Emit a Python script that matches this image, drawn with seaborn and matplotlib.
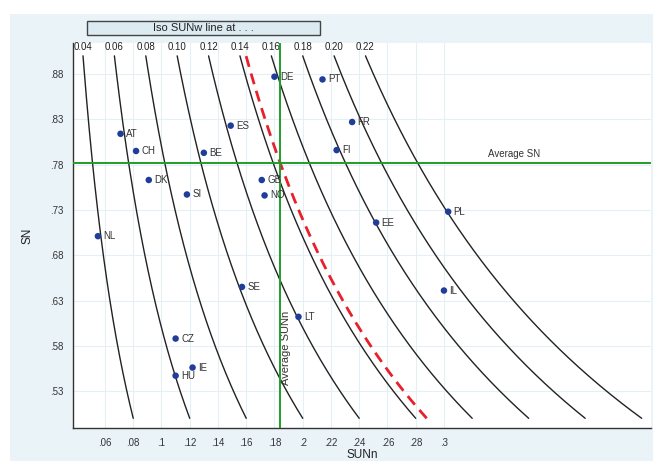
import numpy as np
import pandas as pd
import matplotlib
matplotlib.use("Agg")
import matplotlib.pyplot as plt
import seaborn as sns
from matplotlib.patches import Rectangle

# ─── Data ──────────────────────────────────────────────────────────────────
countries = ["AT", "CH", "BE", "ES", "DK", "SI", "GB", "NO", "NL", "DE",
             "PT", "FR", "FI", "EE", "PL", "SE", "CZ", "IE", "HU", "LT", "IL"]
sunn = [0.071, 0.082, 0.130, 0.149, 0.091, 0.118, 0.171, 0.173, 0.055, 0.180,
        0.214, 0.235, 0.224, 0.252, 0.303, 0.157, 0.110, 0.122, 0.110, 0.197, 0.300]
sn = [0.814, 0.795, 0.793, 0.823, 0.763, 0.747, 0.763, 0.746, 0.701, 0.877,
      0.874, 0.827, 0.796, 0.716, 0.728, 0.645, 0.588, 0.556, 0.547, 0.612, 0.641]

iso_levels = [0.04, 0.06, 0.08, 0.10, 0.12, 0.14, 0.16, 0.18, 0.20, 0.22]
avg_sunn = 0.184
avg_sn = 0.782

x_ticks = [0.06, 0.08, 0.10, 0.12, 0.14, 0.16, 0.18, 0.20, 0.22, 0.24, 0.26, 0.28, 0.30]
x_tick_labels = [".06", ".08", ".1", ".12", ".14", ".16", ".18", ".2", ".22",
                 ".24", ".26", ".28", ".3"]
y_ticks = [0.53, 0.58, 0.63, 0.68, 0.73, 0.78, 0.83, 0.88]
y_tick_labels = [".53", ".58", ".63", ".68", ".73", ".78", ".83", ".88"]

df = pd.DataFrame({"country": countries, "SUNn": sunn, "SN": sn})

# ─── Style ─────────────────────────────────────────────────────────────────
sns.set_style("white")
plt.rcParams["font.family"] = ["Liberation Sans", "DejaVu Sans"]

fig = plt.figure(figsize=(6.54, 4.61), dpi=100)
fig.patch.set_facecolor("white")
# light blue outer region (Stata-like)
fig.patches.append(Rectangle((10 / 654, 0), 643 / 654, 447 / 461,
                             transform=fig.transFigure, facecolor="#eaf3f8",
                             edgecolor="none", zorder=-10))

ax = fig.add_axes([73 / 654, 1 - 428 / 461, 578 / 654, 385 / 461])
ax.set_zorder(5)
ax.set_facecolor("white")
ax.set_xlim(0.03735, 0.4466)
ax.set_ylim(0.4893, 0.9142)

# faint grid
for xv in x_ticks:
    ax.axvline(xv, color="#e6eff6", lw=0.8, zorder=0)
for yv in y_ticks:
    ax.axhline(yv, color="#e6eff6", lw=0.8, zorder=0)

# ─── Iso SUNw curves ───────────────────────────────────────────────────────
sn_grid = np.linspace(0.5, 0.9, 200)
for w in iso_levels:
    sns.lineplot(x=w / sn_grid, y=sn_grid, sort=False, color="#222222",
                 lw=1.0, ax=ax, zorder=2)
    ax.text(w / 0.9, 0.9045, f"{w:.2f}", ha="center", va="bottom",
            fontsize=7, color="#222222")

w_avg = avg_sunn * avg_sn
sns.lineplot(x=w_avg / sn_grid, y=sn_grid, sort=False, color="#e8202a",
             lw=2.0, ax=ax, zorder=3, linestyle=(0, (4, 2.5)))

# ─── Average lines ─────────────────────────────────────────────────────────
ax.axvline(avg_sunn, color="#1e9e2a", lw=1.4, zorder=4)
ax.axhline(avg_sn, color="#1e9e2a", lw=1.4, zorder=4)
ax.text(0.3496, avg_sn + 0.004, "Average SN", ha="center", va="bottom",
        fontsize=7, color="#333333")
ax.text(avg_sunn + 0.0005, 0.537, "Average SUNn", rotation=90, ha="left",
        va="bottom", fontsize=8, color="#333333")

# ─── Points ────────────────────────────────────────────────────────────────
sns.scatterplot(data=df, x="SUNn", y="SN", color="#1f3d99", s=22,
                edgecolor="none", ax=ax, zorder=5)
for _, r in df.iterrows():
    ax.annotate(r["country"], (r["SUNn"], r["SN"]), xytext=(4, 0),
                textcoords="offset points", ha="left", va="center",
                fontsize=7, color="#333333", zorder=6)

# ─── Axes ──────────────────────────────────────────────────────────────────
ax.set_xticks(x_ticks)
ax.set_xticklabels(x_tick_labels)
ax.set_yticks(y_ticks)
ax.set_yticklabels(y_tick_labels)
ax.tick_params(axis="both", direction="out", length=4, width=0.8,
               color="#333333", labelsize=7, labelcolor="#333333", pad=3)
for side in ["top", "right"]:
    ax.spines[side].set_visible(False)
for side in ["left", "bottom"]:
    ax.spines[side].set_color("#333333")
    ax.spines[side].set_linewidth(1.0)
ax.set_xlabel("SUNn", fontsize=8.5, color="#222222", labelpad=1)
ax.set_ylabel("SN", fontsize=8.5, color="#222222", labelpad=12)

# ─── Title box ─────────────────────────────────────────────────────────────
fig.patches.append(Rectangle((87 / 654, 1 - 35 / 461), 233 / 654, 14 / 461,
                             transform=fig.transFigure, facecolor="#dcebf2",
                             edgecolor="#444444", lw=1.0, zorder=1))
fig.text(203 / 654, 1 - 28 / 461, "Iso SUNw line at . . .", ha="center",
         va="center", fontsize=8, color="#222222")

fig.savefig("out.png", dpi=100, facecolor=fig.get_facecolor())
